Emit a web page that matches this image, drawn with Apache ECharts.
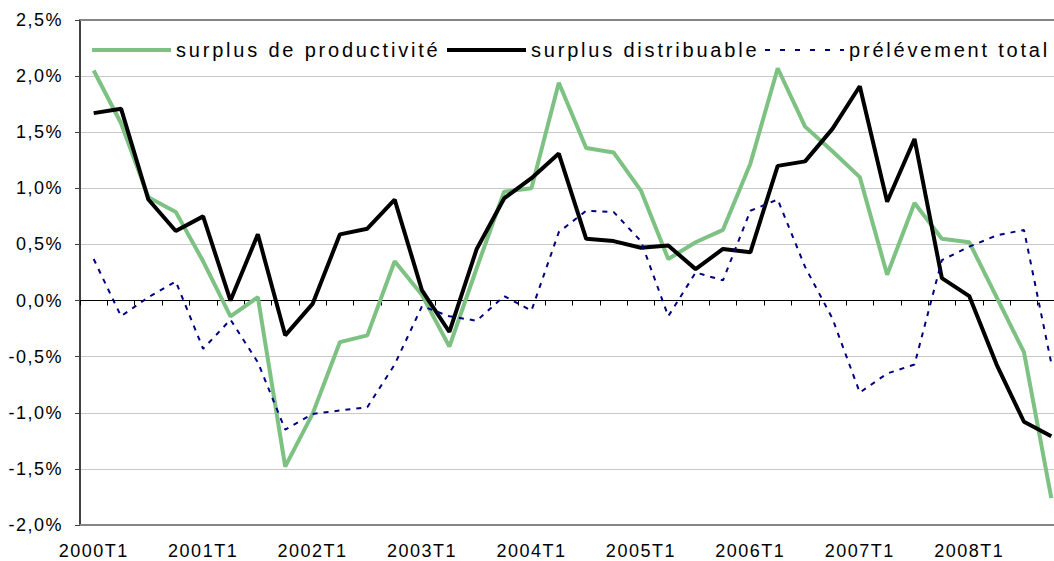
<!DOCTYPE html>
<html><head><meta charset="utf-8">
<script src="https://cdn.jsdelivr.net/npm/echarts@6/dist/echarts.min.js"></script>
<style>
html,body{margin:0;padding:0;background:#fff;overflow:hidden;width:1054px;height:561px}
#chart{width:1070px;height:561px}
#chart text{letter-spacing:1.5px}
#chart text[style*="20px"]{letter-spacing:2.8px}
</style></head><body><div id="chart"></div>
<script>
const categories = ['2000T1','2000T2','2000T3','2000T4','2001T1','2001T2','2001T3','2001T4',
  '2002T1','2002T2','2002T3','2002T4','2003T1','2003T2','2003T3','2003T4',
  '2004T1','2004T2','2004T3','2004T4','2005T1','2005T2','2005T3','2005T4',
  '2006T1','2006T2','2006T3','2006T4','2007T1','2007T2','2007T3','2007T4',
  '2008T1','2008T2','2008T3','2008T4'];
const seriesNames = ['surplus de productivité','surplus distribuable','prélévement total'];
const productivite = [2.05,1.58,0.92,0.79,0.35,-0.14,0.03,-1.48,-1.01,-0.37,-0.31,0.35,0.05,-0.41,0.29,0.97,1.00,1.94,1.36,1.32,0.98,0.37,0.52,0.63,1.22,2.07,1.55,1.33,1.10,0.23,0.87,0.55,0.52,0.03,-0.46,-1.76];
const distribuable = [1.67,1.71,0.90,0.62,0.75,0.00,0.59,-0.31,-0.03,0.59,0.64,0.90,0.09,-0.28,0.46,0.91,1.09,1.31,0.55,0.53,0.47,0.49,0.28,0.46,0.43,1.20,1.24,1.53,1.91,0.88,1.44,0.20,0.04,-0.57,-1.08,-1.21];
const prelevement = [0.37,-0.14,0.03,0.17,-0.43,-0.17,-0.55,-1.15,-1.01,-0.98,-0.95,-0.57,-0.05,-0.14,-0.18,0.04,-0.09,0.61,0.80,0.79,0.53,-0.14,0.25,0.18,0.80,0.90,0.30,-0.16,-0.82,-0.65,-0.57,0.36,0.48,0.58,0.63,-0.56];
const yMin = -2, yMax = 2.5, yStep = 0.5;

const FONT = "'Liberation Sans', Arial, sans-serif";
const GREEN = '#7dc282', BLACK = '#000', NAVY = '#000080';
const chart = echarts.init(document.getElementById('chart'), null, {renderer: 'svg'});
function legendAt(name, left, icon, h, color) {
  return {
    data: [{name: name, icon: icon, itemStyle: {color: color, borderWidth: 0}}],
    left: left, top: 40, padding: 0,
    itemWidth: 79, itemHeight: h, selectedMode: false,
    textStyle: {fontSize: 20, color: '#000', fontFamily: FONT, padding: [5, 0, 0, 0]}
  };
}
const dashIcon = 'path://M0,0h5v2h-5zM15,0h5v2h-5zM30,0h5v2h-5zM45,0h5v2h-5zM60,0h5v2h-5zM75,0h4v2h-4z';
chart.setOption({
  animation: false,
  backgroundColor: '#fff',
  grid: {left: 80, top: 20, width: 985, height: 505},
  legend: [
    legendAt(seriesNames[0], 92, 'rect', 4, GREEN),
    legendAt(seriesNames[1], 447, 'rect', 4, BLACK),
    legendAt(seriesNames[2], 765, dashIcon, 2, NAVY)
  ],
  xAxis: [
    {type: 'category', data: categories, position: 'bottom', boundaryGap: true,
     axisLine: {onZero: false, lineStyle: {color: '#858585', width: 2}},
     axisTick: {show: false},
     axisLabel: {interval: 3, margin: 17, color: '#000', fontSize: 18, fontFamily: FONT},
     splitLine: {show: false}},
    {type: 'category', data: categories, position: 'top', boundaryGap: true,
     axisLine: {onZero: true, lineStyle: {color: '#000', width: 1}},
     axisTick: {show: true, inside: true, length: 5, interval: 0, lineStyle: {color: '#000'}},
     axisLabel: {show: false}, splitLine: {show: false}}
  ],
  yAxis: {
    type: 'value', min: yMin, max: yMax, interval: yStep,
    axisLine: {show: true, onZero: false, lineStyle: {color: '#404040', width: 2}},
    axisTick: {show: true, length: 5, lineStyle: {color: '#404040'}},
    axisLabel: {margin: 17, color: '#000', fontSize: 18, fontFamily: FONT,
      formatter: v => v.toFixed(1).replace('.', ',') + '%'},
    splitLine: {lineStyle: {color: '#c8c8c8', width: 1}}
  },
  series: [
    {name: seriesNames[0], type: 'line', data: productivite, symbol: 'none',
     lineStyle: {color: GREEN, width: 4}, itemStyle: {color: GREEN},
     markLine: {silent: true, symbol: 'none', label: {show: false},
       lineStyle: {color: '#858585', width: 2, type: 'solid'}, data: [{yAxis: yMax}]}},
    {name: seriesNames[1], type: 'line', data: distribuable, symbol: 'none',
     lineStyle: {color: BLACK, width: 4}, itemStyle: {color: BLACK}},
    {name: seriesNames[2], type: 'line', data: prelevement, symbol: 'none',
     lineStyle: {color: NAVY, width: 2, type: [5, 6]}, itemStyle: {color: NAVY}}
  ]
});
</script></body></html>
